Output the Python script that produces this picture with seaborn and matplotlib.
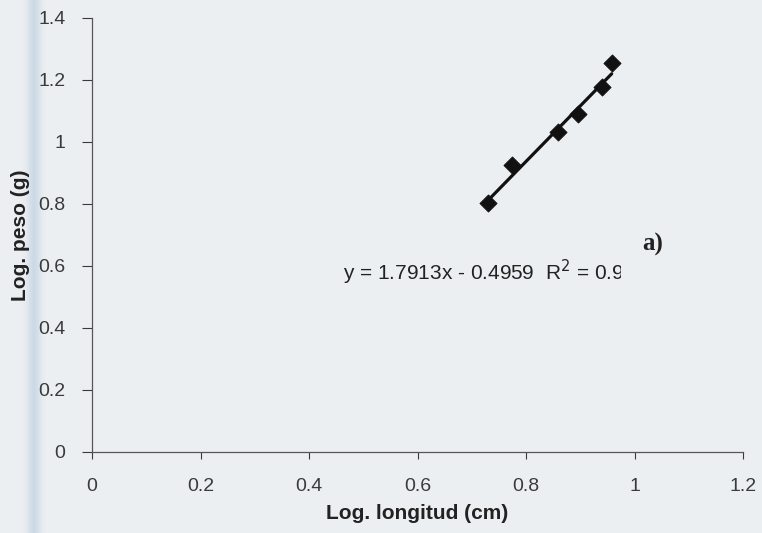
import numpy as np
import pandas as pd
import matplotlib
matplotlib.use("Agg")
import matplotlib.pyplot as plt
from matplotlib.patches import Rectangle
from matplotlib.transforms import Bbox
import seaborn as sns

# Log-length vs log-weight observations
log_longitud = [0.730, 0.774, 0.859, 0.896, 0.940, 0.958]
log_peso = [0.803, 0.926, 1.032, 1.090, 1.177, 1.255]

# Fitted regression line coefficients
slope = 1.7913
intercept = -0.4959

x_ticks = [0, 0.2, 0.4, 0.6, 0.8, 1, 1.2]
x_tick_labels = ["0", "0.2", "0.4", "0.6", "0.8", "1", "1.2"]
y_ticks = [0, 0.2, 0.4, 0.6, 0.8, 1, 1.2, 1.4]
y_tick_labels = ["0", "0.2", "0.4", "0.6", "0.8", "1", "1.2", "1.4"]

sns.set_style("ticks")
plt.rcParams["font.family"] = ["Liberation Sans", "DejaVu Sans"]

bg = "#eceff1"
fig = plt.figure(figsize=(7.62, 5.33), dpi=100, facecolor=bg)
ax = fig.add_axes([92 / 762, 81 / 533, 651 / 762, 434 / 533])
ax.set_facecolor(bg)
ax.patch.set_alpha(0.0)

# soft bluish band along the left edge of the sheet
band = np.linspace(0, 1, 40)
profile = np.exp(-((band - 0.5) / 0.28) ** 2)
for i, a in enumerate(profile):
    fig.patches.append(Rectangle(((22 + i * 0.6) / 762, 0), 0.6 / 762, 1,
                                 transform=fig.transFigure, facecolor="#b3c9de",
                                 edgecolor="none", alpha=0.55 * a, zorder=-5))

df = pd.DataFrame({"Log. longitud (cm)": log_longitud, "Log. peso (g)": log_peso})

# trend line over the range of the data
xs = np.array([min(log_longitud), max(log_longitud)])
ax.plot(xs, slope * xs + intercept, color="#111111", lw=2.3, zorder=2)

sns.scatterplot(data=df, x="Log. longitud (cm)", y="Log. peso (g)", ax=ax,
                marker="D", s=75, color="#111111", edgecolor="#111111", zorder=3)

ax.set_xlim(0, 1.2)
ax.set_ylim(0, 1.4)
ax.set_xticks(x_ticks)
ax.set_xticklabels(x_tick_labels)
ax.set_yticks(y_ticks)
ax.set_yticklabels(y_tick_labels)
ax.tick_params(axis="both", labelsize=14, colors="#3a3a3a", width=0.8,
               direction="out")
ax.tick_params(axis="x", length=5, pad=14)
ax.tick_params(axis="y", length=7, pad=12)
sns.despine(ax=ax)
for side in ("left", "bottom"):
    ax.spines[side].set_color("#555555")
    ax.spines[side].set_linewidth(0.9)

ax.set_xlabel("Log. longitud (cm)", fontsize=15, fontweight="bold", color="#222222", labelpad=6)
ax.set_ylabel("Log. peso (g)", fontsize=15, fontweight="bold", color="#222222", labelpad=6)

# regression equation, cut off at the right edge of its box
eq = ax.text(0.462, 0.58, "y = 1.7913x - 0.4959  R$^2$ = 0.9", fontsize=15,
             color="#222222", va="center", ha="left")
clip_box = Bbox.from_extents(0, 0, 621, 533)
eq.set_clip_box(clip_box)
eq.set_clip_on(True)

ax.text(1.015, 0.668, "a)", fontsize=18, fontweight="bold", family="Liberation Serif",
        color="#222222", va="center", ha="left")

fig.savefig("out.png", dpi=100, facecolor=bg)
